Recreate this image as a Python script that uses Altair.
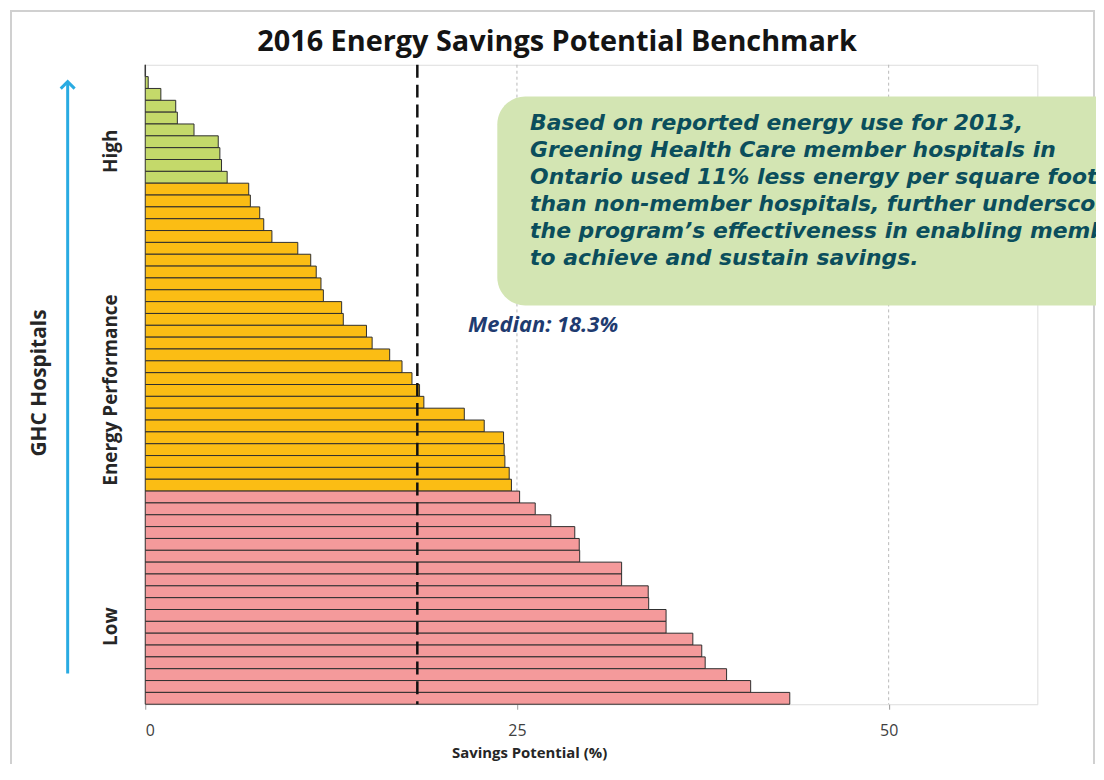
import altair as alt
import pandas as pd

# ---- data ----
savings = [0, 0.2, 1.05, 2.05, 2.16, 3.28, 4.91, 5.02, 5.13, 5.51,
           6.96, 7.07, 7.70, 7.97, 8.52, 10.26, 11.13, 11.5, 11.82, 11.98,
           13.21, 13.32, 14.88, 15.26, 16.44, 17.27, 17.94, 18.45, 18.74, 21.46,
           22.80, 24.10, 24.14, 24.19, 24.48, 24.63,
           25.18, 26.23, 27.28, 28.89, 29.19, 29.22, 32.04, 32.04, 33.83, 33.86,
           35.03, 35.03, 36.83, 37.43, 37.66, 39.10, 40.72, 43.35]
tier_names = ["High", "Middle", "Low"]
tier_counts = [10, 26, 18]
tier_colors = ["#c4d96a", "#fbbd14", "#f49a9b"]
median = 18.3
x_ticks = [0, 25, 50]
grid_vals = [25, 50]
x_max = 60
title_text = "2016 Energy Savings Potential Benchmark"
x_title = "Savings Potential (%)"
note_lines = [
    "Based on reported energy use for 2013,",
    "Greening Health Care member hospitals in",
    "Ontario used 11% less energy per square foot",
    "than non-member hospitals, further underscoring",
    "the program\u2019s effectiveness in enabling members",
    "to achieve and sustain savings.",
]
perf_labels = ["High", "Energy Performance", "Low"]

tiers = []
for name, n in zip(tier_names, tier_counts):
    tiers += [name] * n
df = pd.DataFrame({"rank": list(range(1, len(savings) + 1)), "savings": savings, "tier": tiers})
one = pd.DataFrame({"a": [0]})

W, H = 897, 643
FONT = "Open Sans"

xscale = alt.Scale(domain=[0, x_max], nice=False, zero=True)

bars = alt.Chart(df).mark_bar(stroke="#2e2e2e", strokeWidth=1).encode(
    x=alt.X("savings:Q", scale=xscale,
            axis=alt.Axis(values=x_ticks, grid=False, domain=False, ticks=True, tickSize=5,
                          tickColor="#9a9a9a", labelFontSize=16, labelColor="#404040",
                          labelFont=FONT, labelPadding=13, title=x_title, titleFont=FONT,
                          titleFontSize=15, titleFontWeight="bold", titleColor="#262626",
                          titlePadding=8, titleX=386)),
    y=alt.Y("rank:O", sort=None, axis=None, scale=alt.Scale(paddingInner=0, paddingOuter=0)),
    color=alt.Color("tier:N", scale=alt.Scale(domain=tier_names, range=tier_colors), legend=None),
)

grid = alt.Chart(pd.DataFrame({"v": grid_vals})).mark_rule(
    color="#b8b8b8", strokeWidth=1, strokeDash=[3, 3]
).encode(x=alt.X("v:Q", scale=xscale))

med_df = pd.DataFrame({"m": [median]})
med_rule = alt.Chart(med_df).mark_rule(color="#111111", strokeWidth=2.5, strokeDash=[13, 7]).encode(
    x=alt.X("m:Q", scale=xscale)
)
med_label = alt.Chart(med_df).mark_text(
    text=f"Median: {median}%", align="left", baseline="middle", dx=51,
    font=FONT, fontSize=22, fontStyle="italic", fontWeight="bold", color="#1f3b70"
).encode(x=alt.X("m:Q", scale=xscale), y=alt.value(262))

box = alt.Chart(one).mark_rect(cornerRadius=28, color="#d3e5b3").encode(
    x=alt.value(354), x2=alt.value(1150), y=alt.value(32), y2=alt.value(242)
)
note = alt.Chart(one).mark_text(
    text=note_lines, align="left", baseline="alphabetic", lineHeight=27,
    font="DejaVu Sans", fontSize=22, fontStyle="italic", fontWeight="bold", color="#0b4e5c"
).encode(x=alt.value(387), y=alt.value(66))

perf_df = pd.DataFrame({"label": perf_labels, "py": [87, 327, 565]})
perf = alt.Chart(perf_df).mark_text(
    angle=270, align="center", baseline="middle", font=FONT, fontSize=19,
    fontWeight="bold", color="#262626"
).encode(text="label:N", x=alt.value(-34), y=alt.Y("py:Q", scale=None))

ghc = alt.Chart(one).mark_text(
    text="GHC Hospitals", angle=270, align="center", baseline="middle", font=FONT,
    fontSize=21, fontWeight="bold", color="#262626"
).encode(x=alt.value(-106), y=alt.value(320))

arrow_line = alt.Chart(one).mark_rule(color="#29abe2", strokeWidth=3).encode(
    x=alt.value(-78), y=alt.value(18), y2=alt.value(612)
)
arrow_head = alt.Chart(one).mark_point(
    shape="M-1,0.5L0,-0.5L1,0.5", filled=False, stroke="#29abe2", strokeWidth=3, size=196, opacity=1
).encode(x=alt.value(-78), y=alt.value(20.5))

title = alt.Chart(one).mark_text(
    text=title_text, align="center", baseline="middle", font=FONT, fontSize=29,
    fontWeight="bold", color="#141414"
).encode(x=alt.value(414), y=alt.value(-23))

frame = alt.Chart(one).mark_rect(fillOpacity=0, stroke="#d0d0d0", strokeWidth=2).encode(
    x=alt.value(-135), x2=alt.value(954), y=alt.value(-54), y2=alt.value(800)
)

chart = alt.layer(
    frame, grid, bars, med_rule, box, note, med_label, perf, ghc, arrow_line, arrow_head, title
).properties(
    width=W, height=H,
    autosize=alt.AutoSizeParams(type="none"),
    padding={"left": 138, "top": 55, "right": 59, "bottom": 58},
).configure_view(stroke="#8a8a8a", strokeWidth=1.5).configure(background="white")

chart.save("out.html", embed_options={"renderer": "svg", "actions": False})
